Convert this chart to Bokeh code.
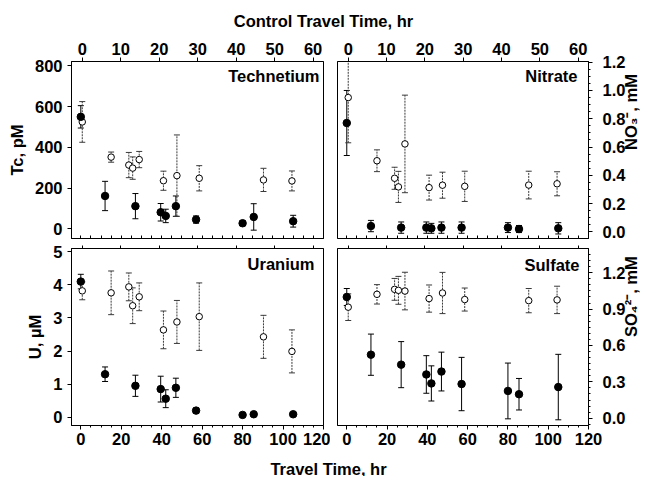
import math
from bokeh.plotting import figure
from bokeh.models import (ColumnDataSource, Range1d, LinearAxis, Whisker, TeeHead,
                          Label, FixedTicker, PrintfTickFormatter)
from bokeh.layouts import column, row
from bokeh.embed import file_html
from bokeh.resources import INLINE

FONT = "Liberation Sans"

# ---------------- data ----------------
treat_time = [0, 12, 27, 39.5, 42, 47, 57, 80, 85.5, 105]        # Travel Time, hr (filled)
ctrl_time = [0, 7.5, 12.1, 13.1, 14.8, 21.1, 24.6, 30.4, 47.1, 54.5]  # Control Travel Time, hr (open)

tc_treat = [550, 161, 111, 81, 63, 111, 45, 27, 58, 37]
tc_treat_err = [55, 72, 62, 43, 33, 50, 18, 12, 65, 29]
tc_ctrl = [525, 352, 313, 298, 340, 236, 261, 248, 240, 235]
tc_ctrl_err = [100, 25, 62, 55, 40, 47, 200, 62, 57, 49]

no3_treat = [0.77, 0.041, 0.03, 0.03, 0.025, 0.03, 0.03, 0.03, 0.02, 0.025]
no3_treat_err = [0.23, 0.04, 0.04, 0.04, 0.035, 0.04, 0.04, 0.035, 0.025, 0.04]
no3_ctrl = [0.95, 0.503, 0.379, 0.318, 0.622, 0.313, 0.33, 0.322, 0.331, 0.34]
no3_ctrl_err = [0.32, 0.077, 0.078, 0.11, 0.345, 0.088, 0.092, 0.107, 0.098, 0.085]

u_treat = [4.10, 1.30, 0.95, 0.85, 0.56, 0.89, 0.20, 0.07, 0.09, 0.09]
u_treat_err = [0.22, 0.22, 0.32, 0.39, 0.27, 0.29, 0.08, 0.02, 0.02, 0.03]
u_ctrl = [3.82, 3.76, 3.94, 3.37, 3.64, 2.64, 2.88, 3.04, 2.43, 1.99]
u_ctrl_err = [0.27, 0.66, 0.42, 0.54, 0.42, 0.57, 0.65, 1.02, 0.65, 0.65]

so4_treat = [1.00, 0.524, 0.442, 0.361, 0.287, 0.385, 0.282, 0.225, 0.198, 0.257]
so4_treat_err = [0.07, 0.17, 0.19, 0.155, 0.145, 0.16, 0.22, 0.23, 0.13, 0.27]
so4_ctrl = [0.916, 1.022, 1.063, 1.055, 1.049, 0.987, 1.033, 0.979, 0.97, 0.976]
so4_ctrl_err = [0.11, 0.08, 0.09, 0.115, 0.155, 0.112, 0.17, 0.095, 0.10, 0.113]

# tick labels
bottom_ticks = [0, 20, 40, 60, 80, 100, 120]
top_ticks = [0, 10, 20, 30, 40, 50, 60]
tc_ticks = [0, 200, 400, 600, 800]
u_ticks = [0, 1, 2, 3, 4, 5]
no3_ticks = [0.0, 0.2, 0.4, 0.6, 0.8, 1.0, 1.2]
so4_ticks = [0.0, 0.3, 0.6, 0.9, 1.2]

# ---------------- layout constants ----------------
TOTAL_W = 652
LEFT_W = 330
RIGHT_W = TOTAL_W - LEFT_W
X_RANGE = (-4.6, 120)
CTRL_RANGE = (-2.8, 62.7)
TICK_FS = "16.5px"


def style_axis(ax):
    ax.axis_line_color = "black"
    ax.axis_line_width = 1
    ax.major_tick_line_color = "black"
    ax.major_tick_out = 4
    ax.major_tick_in = 0
    ax.minor_tick_line_color = "black"
    ax.minor_tick_out = 2
    ax.minor_tick_in = 0
    ax.major_label_text_font = FONT
    ax.major_label_text_font_style = "bold"
    ax.major_label_text_color = "black"
    ax.major_label_text_font_size = TICK_FS
    ax.major_label_standoff = 3
    ax.axis_label_text_font = FONT
    ax.axis_label_text_font_style = "bold"
    ax.axis_label_text_font_size = "16.5px"
    ax.axis_label_text_color = "black"


def x_axis(ticks, minor, labelled, rng_name=None, inward=False):
    kw = {}
    if rng_name:
        kw["x_range_name"] = rng_name
    if labelled:
        ax = LinearAxis(ticker=FixedTicker(ticks=ticks, minor_ticks=minor), **kw)
        style_axis(ax)
        if not minor:
            ax.minor_tick_line_color = None
    else:
        # tick marks only (no labels): all positions as minor ticks
        ax = LinearAxis(ticker=FixedTicker(ticks=[], minor_ticks=sorted(ticks + minor)), **kw)
        style_axis(ax)
        ax.major_tick_out = 0
        ax.major_label_standoff = 0
        if inward:
            ax.minor_tick_out = 0
            ax.minor_tick_in = 3
        else:
            ax.minor_tick_out = 3
    return ax


def make_panel(width, height, yr, yticks, yminor, ylabel, side, top_row, name,
               treat, treat_err, ctrl, ctrl_err, borders, name_off):
    bl, br, bt, bb = borders
    p = figure(width=width, height=height, x_range=Range1d(*X_RANGE),
               y_range=Range1d(*yr), output_backend="svg", toolbar_location=None,
               x_axis_location=None, y_axis_location=None, tools="",
               min_border_left=bl, min_border_right=br,
               min_border_top=bt, min_border_bottom=bb)
    p.grid.visible = False
    p.extra_x_ranges = {"ctrl": Range1d(*CTRL_RANGE)}
    p.outline_line_color = "black"
    p.outline_line_width = 1
    p.background_fill_color = "white"
    p.border_fill_color = "white"

    minor_b = [t + k * 5 for t in bottom_ticks[:-1] for k in (1, 2, 3)]
    p.add_layout(x_axis(bottom_ticks, minor_b, not top_row, inward=top_row), "below")
    p.add_layout(x_axis(top_ticks, [], top_row, "ctrl"), "above")

    # y axis
    mt = []
    if yminor:
        k = math.ceil(yr[0] / yminor)
        while k * yminor <= yr[1]:
            mt.append(round(k * yminor, 6))
            k += 1
    yax = LinearAxis(ticker=FixedTicker(ticks=yticks, minor_ticks=mt))
    style_axis(yax)
    if not yminor:
        yax.minor_tick_line_color = None
    yax.axis_label = ylabel
    if side == "left":
        yax.major_label_standoff = 5
        yax.axis_label_standoff = 6
    else:
        yax.formatter = PrintfTickFormatter(format="%.1f")
        yax.major_label_standoff = 10
        yax.axis_label_standoff = 3
        if hasattr(yax, "axis_label_orientation"):
            try:
                yax.axis_label_orientation = math.pi / 2
            except Exception:
                pass
    p.add_layout(yax, side)

    ytop = yr[1]
    src_t = ColumnDataSource(dict(x=treat_time, y=treat,
                                  upper=[min(a + b, ytop) for a, b in zip(treat, treat_err)],
                                  lower=[a - b for a, b in zip(treat, treat_err)]))
    src_c = ColumnDataSource(dict(x=ctrl_time, y=ctrl,
                                  upper=[min(a + b, ytop) for a, b in zip(ctrl, ctrl_err)],
                                  lower=[a - b for a, b in zip(ctrl, ctrl_err)]))
    wt = Whisker(source=src_t, base="x", upper="upper", lower="lower",
                 dimension="height", line_color="black", line_width=1,
                 upper_head=TeeHead(size=6, line_color="black", line_width=1),
                 lower_head=TeeHead(size=6, line_color="black", line_width=1),
                 level="underlay")
    wc = Whisker(source=src_c, base="x", upper="upper", lower="lower",
                 dimension="height", line_color="#3a3a3a", line_width=1,
                 line_dash="2 1", x_range_name="ctrl",
                 upper_head=TeeHead(size=6, line_color="#3a3a3a", line_width=1),
                 lower_head=TeeHead(size=6, line_color="#3a3a3a", line_width=1),
                 level="underlay")
    p.add_layout(wt)
    p.add_layout(wc)

    p.scatter("x", "y", source=src_c, x_range_name="ctrl", size=6.5,
              fill_color="white", line_color="black", line_width=1)
    p.scatter("x", "y", source=src_t, size=7.5, fill_color="black",
              line_color="black")

    p.add_layout(Label(x=X_RANGE[1], y=yr[1], x_offset=name_off[0], y_offset=name_off[1],
                       text=name, text_align="right", text_baseline="top",
                       text_font=FONT, text_font_style="bold",
                       text_font_size="16.5px", text_color="black"))
    return p


H1 = 209   # top border 29 + frame 177 + bottom 3
H2 = 212   # top border 7 + frame 177 + bottom 28
f1 = make_panel(LEFT_W, H1, (-48, 822), tc_ticks, None, "Tc, pM", "left", True,
                "Technetium", tc_treat, tc_treat_err, tc_ctrl, tc_ctrl_err,
                (71, 7, 29, 3), (-4, -5))
f2 = make_panel(RIGHT_W, H1, (-0.047, 1.205), no3_ticks, 0.05, "NO\u2083\u207b, mM", "right",
                True, "Nitrate", no3_treat, no3_treat_err, no3_ctrl, no3_ctrl_err,
                (7, 63, 29, 3), (-11, -5))
f3 = make_panel(LEFT_W, H2, (-0.25, 5.1), u_ticks, None, "U, \u00b5M", "left", False,
                "Uranium", u_treat, u_treat_err, u_ctrl, u_ctrl_err,
                (71, 7, 7, 28), (-9, -6))
f4 = make_panel(RIGHT_W, H2, (-0.06, 1.4), so4_ticks, 0.05, "SO\u2084\u00b2\u207b, mM", "right",
                False, "Sulfate", so4_treat, so4_treat_err, so4_ctrl, so4_ctrl_err,
                (7, 63, 7, 28), (-9, -7))


def text_strip(h, x, y, txt):
    s = figure(width=TOTAL_W, height=h, x_range=Range1d(0, TOTAL_W), y_range=Range1d(0, h),
               x_axis_location=None, y_axis_location=None, toolbar_location=None,
               tools="", output_backend="svg", min_border=0)
    s.grid.visible = False
    s.outline_line_color = None
    s.add_layout(Label(x=x, y=y, text=txt, text_align="center", text_baseline="middle",
                       text_font=FONT, text_font_style="bold", text_font_size="16.5px",
                       text_color="black"))
    return s


hdr = text_strip(32, 323, 12, "Control Travel Time, hr")
ftr = text_strip(23, 328, 8, "Travel Time, hr")

layout = column(hdr, row(f1, f2), row(f3, f4), ftr)

with open("out.html", "w") as fh:
    fh.write(file_html(layout, INLINE))
